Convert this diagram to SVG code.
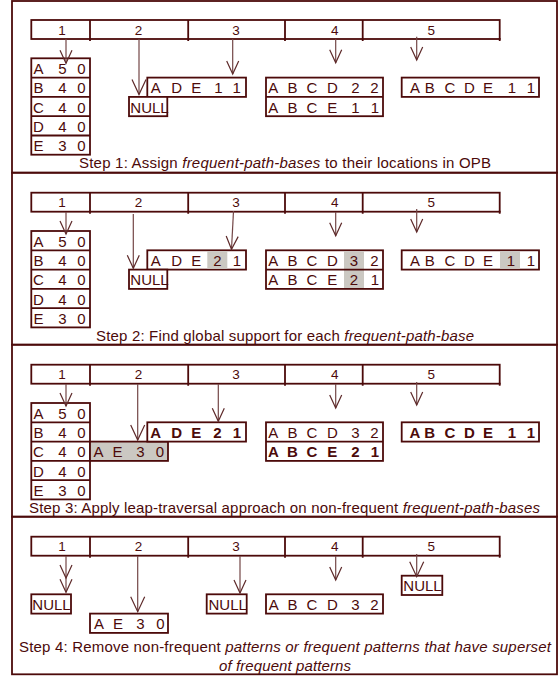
<svg xmlns="http://www.w3.org/2000/svg" width="558" height="677" viewBox="0 0 558 677">
<style>
.fr{fill:none;stroke:#4c0a0a;stroke-width:1.8}
.box{fill:#fff;stroke:#4c0a0a;stroke-width:1.8}
.ol{fill:none;stroke:#4c0a0a;stroke-width:1.8}
.ln{fill:none;stroke:#4c0a0a;stroke-width:1.8}
.hl{fill:#cbc8c2}
.hlb{fill:#cbc8c2;stroke:#4c0a0a;stroke-width:1.8}
text{font-family:"Liberation Sans",Arial,Helvetica,sans-serif;fill:#4c0a0a}
.t{font-size:15px;text-anchor:middle}
.b{font-weight:bold}
.nl{font-size:15px}
.n{font-size:13.5px;text-anchor:middle}
.cap{font-size:15px;text-anchor:middle}
.it{font-style:italic}
.c{fill:none;stroke:#734646;stroke-width:1.2}
</style>
<defs>
<marker id="ah" markerUnits="userSpaceOnUse" orient="auto" refX="0" refY="0" markerWidth="20" markerHeight="20" overflow="visible">
<path d="M-13,-6L0,0L-13,6" fill="none" stroke="#5e2a2a" stroke-width="1.2"/>
</marker>
<marker id="ahL" markerUnits="userSpaceOnUse" orient="auto" refX="0" refY="0" markerWidth="20" markerHeight="20" overflow="visible">
<path d="M-15,-7L0,0L-15,7" fill="none" stroke="#5e2a2a" stroke-width="1.2"/>
</marker>
</defs>
<rect width="558" height="677" fill="#fff"/>

<g id="frames">
<rect class="fr" x="12" y="1" width="545" height="171.7"/>
<rect class="fr" x="12" y="172.7" width="545" height="172"/>
<rect class="fr" x="12" y="344.7" width="545" height="172"/>
<rect class="fr" x="12" y="516.7" width="545" height="157.6"/>
</g>

<!-- Panel 1 -->
<g id="panel1">
<g id="p1-array">
<rect class="box" x="31.3" y="20" width="468.4" height="19"/>
<path class="ln" d="M90,20V41M188.2,20V41M285,20V41M362.7,20V41M499.7,38V41"/>
<text class="n" x="62" y="34.5">1</text><text class="n" x="138.5" y="34.5">2</text><text class="n" x="236" y="34.5">3</text><text class="n" x="334.7" y="34.5">4</text><text class="n" x="431.3" y="34.5">5</text>
</g>
<g id="p1-table">
<rect class="box" x="31.3" y="58.3" width="58.7" height="96.4"/>
<path class="ln" d="M31.3,77.6H90M31.3,96.9H90M31.3,116.2H90M31.3,135.5H90"/>
<text class="t" x="38.5 50 62.5 72 81.5" y="74">A 5 0</text>
<text class="t" x="38.5 50 62.5 72 81.5" y="93.3">B 4 0</text>
<text class="t" x="38.5 50 62.5 72 81.5" y="112.6">C 4 0</text>
<text class="t" x="38.5 50 62.5 72 81.5" y="131.9">D 4 0</text>
<text class="t" x="38.5 50 62.5 72 81.5" y="151.2">E 3 0</text>
</g>
<g id="p1-ade">
<rect class="box" x="147.3" y="77.6" width="98.7" height="19.3"/>
<text class="t" x="155.7 166 176.7 186.5 196.2 207 218.3 228 236.7" y="93.3">A D E 1 1</text>
</g>
<g id="p1-null">
<rect class="box" x="129" y="96.9" width="38.3" height="19.3"/>
<text class="nl" x="130.3" y="112.6">NULL</text>
</g>
<g id="p1-abcd">
<rect class="box" x="266" y="77.6" width="117" height="38.6"/>
<path class="ln" d="M266,96.9H383"/>
<text class="t" x="273.3 283 292.5 302 312 322 332.3 344 355.5 365 374.5" y="93.3">A B C D 2 2</text>
<text class="t" x="273.3 283 292.5 302 312 322 332.3 344 355.5 365 375" y="112.6">A B C E 1 1</text>
</g>
<g id="p1-abcde">
<rect class="box" x="401.7" y="77.6" width="137.3" height="19.3"/>
<text class="t" x="415 422 429.7 440 450 460 469.5 479 488 500 512 521 531" y="93.3">A B C D E 1 1</text>
</g>
<text class="cap" x="285" y="168" textLength="412" lengthAdjust="spacing">Step 1: Assign <tspan class="it">frequent-path-bases</tspan> to their locations in OPB</text>
</g>

<!-- Panel 2 -->
<g id="panel2" transform="translate(0,172.7)">
<g id="p2-array">
<rect class="box" x="31.3" y="20" width="468.4" height="19"/>
<path class="ln" d="M90,20V41M188.2,20V41M285,20V41M362.7,20V41M499.7,38V41"/>
<text class="n" x="62" y="34.5">1</text><text class="n" x="138.5" y="34.5">2</text><text class="n" x="236" y="34.5">3</text><text class="n" x="334.7" y="34.5">4</text><text class="n" x="431.3" y="34.5">5</text>
</g>
<g id="p2-table">
<rect class="box" x="31.3" y="58.3" width="58.7" height="96.4"/>
<path class="ln" d="M31.3,77.6H90M31.3,96.9H90M31.3,116.2H90M31.3,135.5H90"/>
<text class="t" x="38.5 50 62.5 72 81.5" y="74">A 5 0</text>
<text class="t" x="38.5 50 62.5 72 81.5" y="93.3">B 4 0</text>
<text class="t" x="38.5 50 62.5 72 81.5" y="112.6">C 4 0</text>
<text class="t" x="38.5 50 62.5 72 81.5" y="131.9">D 4 0</text>
<text class="t" x="38.5 50 62.5 72 81.5" y="151.2">E 3 0</text>
</g>
<g id="p2-ade">
<rect class="box" x="147.3" y="77.6" width="98.7" height="19.3"/>
<rect class="hl" x="207.3" y="78.5" width="20" height="17.5"/>
<text class="t" x="155.7 166 176.7 186.5 196.2 207 217.5 228 237" y="93.3">A D E 2 1</text>
</g>
<g id="p2-null">
<rect class="box" x="129" y="96.9" width="38.3" height="19.3"/>
<text class="nl" x="130.3" y="112.6">NULL</text>
</g>
<g id="p2-abcd">
<rect class="box" x="266" y="77.6" width="117" height="38.6"/>
<rect class="hl" x="344" y="78.5" width="20" height="36.8"/>
<path class="ln" d="M266,96.9H383"/>
<text class="t" x="273.3 283 292.5 302 312 322 332.3 344 354 365 374.5" y="93.3">A B C D 3 2</text>
<text class="t" x="273.3 283 292.5 302 312 322 332.3 344 354 365 375" y="112.6">A B C E 2 1</text>
</g>
<g id="p2-abcde">
<rect class="box" x="401.7" y="77.6" width="137.3" height="19.3"/>
<rect class="hl" x="500" y="78.5" width="20" height="17.5"/>
<text class="t" x="415 422 429.7 440 450 460 469.5 479 488 500 511 521 531" y="93.3">A B C D E 1 1</text>
</g>
<text class="cap" x="285" y="168" textLength="378" lengthAdjust="spacing">Step 2: Find global support for each <tspan class="it">frequent-path-base</tspan></text>
</g>

<!-- Panel 3 -->
<g id="panel3" transform="translate(0,344.7)">
<g id="p3-array">
<rect class="box" x="31.3" y="20" width="468.4" height="19"/>
<path class="ln" d="M90,20V41M188.2,20V41M285,20V41M362.7,20V41M499.7,38V41"/>
<text class="n" x="62" y="34.5">1</text><text class="n" x="138.5" y="34.5">2</text><text class="n" x="236" y="34.5">3</text><text class="n" x="334.7" y="34.5">4</text><text class="n" x="431.3" y="34.5">5</text>
</g>
<g id="p3-table">
<rect class="box" x="31.3" y="58.3" width="58.7" height="96.4"/>
<path class="ln" d="M31.3,77.6H90M31.3,96.9H90M31.3,116.2H90M31.3,135.5H90"/>
<text class="t" x="38.5 50 62.5 72 81.5" y="74">A 5 0</text>
<text class="t" x="38.5 50 62.5 72 81.5" y="93.3">B 4 0</text>
<text class="t" x="38.5 50 62.5 72 81.5" y="112.6">C 4 0</text>
<text class="t" x="38.5 50 62.5 72 81.5" y="131.9">D 4 0</text>
<text class="t" x="38.5 50 62.5 72 81.5" y="151.2">E 3 0</text>
</g>
<g id="p3-ae">
<rect class="hlb" x="90" y="96.9" width="78" height="19.3"/>
<text class="t" x="98.5 108 117.5 129 140.3 150 160" y="112.6">A E 3 0</text>
</g>
<g id="p3-ade">
<rect class="box" x="147.3" y="77.6" width="98.7" height="19.3"/>
<text class="t b" x="155.7 166 176.7 186.5 196.2 207 217.5 228 237" y="93.3">A D E 2 1</text>
</g>
<g id="p3-abcd">
<rect class="box" x="266" y="77.6" width="117" height="38.6"/>
<path class="ln" d="M266,96.9H383"/>
<text class="t" x="273.3 283 292.5 302 312 322 332.3 344 355.5 365 374.5" y="93.3">A B C D 3 2</text>
<text class="t b" x="273.3 283 292.5 302 312 322 332.3 344 355.5 365 375" y="112.6">A B C E 2 1</text>
</g>
<g id="p3-abcde">
<rect class="box" x="401.7" y="77.6" width="137.3" height="19.3"/>
<text class="t b" x="415 422 429.7 440 450 460 469.5 479 488 500 512 521 531" y="93.3">A B C D E 1 1</text>
</g>
<text class="cap" x="284.5" y="168.3" textLength="511" lengthAdjust="spacing">Step 3: Apply leap-traversal approach on non-frequent <tspan class="it">frequent-path-bases</tspan></text>
</g>

<!-- Panel 4 -->
<g id="panel4" transform="translate(0,516.7)">
<g id="p4-array">
<rect class="box" x="31.3" y="20" width="468.4" height="19"/>
<path class="ln" d="M90,20V41M188.2,20V41M285,20V41M362.7,20V41M499.7,38V41"/>
<text class="n" x="62" y="34.5">1</text><text class="n" x="138.5" y="34.5">2</text><text class="n" x="236" y="34.5">3</text><text class="n" x="334.7" y="34.5">4</text><text class="n" x="431.3" y="34.5">5</text>
</g>
<g id="p4-null1">
<rect class="box" x="31.3" y="77.6" width="39.7" height="19.3"/>
<text class="nl" x="32.3" y="93.3">NULL</text>
</g>
<g id="p4-ae">
<rect class="box" x="90" y="96.9" width="78" height="19.3"/>
<text class="t" x="99 108 118 129 140.3 150 160.3" y="112.6">A E 3 0</text>
</g>
<g id="p4-null3">
<rect class="box" x="206.7" y="77.6" width="40" height="19.3"/>
<text class="nl" x="208.5" y="93.3">NULL</text>
</g>
<g id="p4-abcd">
<rect class="box" x="266" y="77.6" width="117" height="19.3"/>
<text class="t" x="273.8 283 292.5 302 312 322 332.3 344 355.5 365 374.5" y="93.3">A B C D 3 2</text>
</g>
<g id="p4-null5">
<rect class="box" x="401.7" y="59" width="40.6" height="19.3"/>
<text class="nl" x="403.3" y="74">NULL</text>
</g>
<text class="cap" x="285" y="135.3" textLength="532" lengthAdjust="spacing">Step 4: Remove non-frequent <tspan class="it">patterns or frequent patterns that have superset</tspan></text>
<text class="cap it" x="285" y="154.3" textLength="132" lengthAdjust="spacing">of frequent patterns</text>
</g>

<g id="connectors">
<path class="c" d="M66,39V63.3" marker-end="url(#ah)"/>
<path class="c" d="M139,39V94.5" marker-end="url(#ahL)"/>
<path class="c" d="M232.7,39V74" marker-end="url(#ah)"/>
<path class="c" d="M335.7,39.3V62.7" marker-end="url(#ah)"/>
<path class="c" d="M416.7,36.7V60" marker-end="url(#ah)"/>

<path class="c" d="M66,212V234" marker-end="url(#ah)"/>
<path class="c" d="M133.3,214V268.3" marker-end="url(#ah)"/>
<path class="c" d="M233.5,211L231.5,249.3" marker-end="url(#ah)"/>
<path class="c" d="M335.7,212V235.7" marker-end="url(#ah)"/>
<path class="c" d="M416.7,209V232" marker-end="url(#ah)"/>

<path class="c" d="M66,384V406" marker-end="url(#ah)"/>
<path class="c" d="M137.7,384V440" marker-end="url(#ahL)"/>
<path class="c" d="M218.3,384V421.3" marker-end="url(#ah)"/>
<path class="c" d="M335.7,384V408" marker-end="url(#ah)"/>
<path class="c" d="M416.7,382V405" marker-end="url(#ah)"/>

<path class="c" d="M66,556V578V592.3" marker-mid="url(#ah)" marker-end="url(#ah)"/>
<path class="c" d="M137.7,556V611.7" marker-end="url(#ahL)"/>
<path class="c" d="M240,556V593" marker-end="url(#ah)"/>
<path class="c" d="M335.7,556V580" marker-end="url(#ah)"/>
<path class="c" d="M416.7,554V576.7" marker-end="url(#ahL)"/>
</g>
</svg>
